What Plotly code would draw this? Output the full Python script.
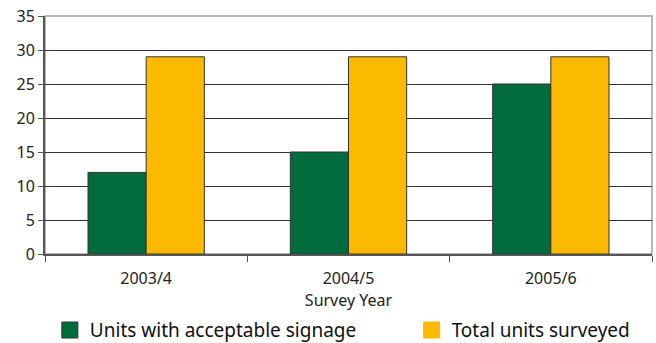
import plotly.graph_objects as go

years = ["2003/4", "2004/5", "2005/6"]
acceptable = [12, 15, 25]
surveyed = [29, 29, 29]
y_ticks = [0, 5, 10, 15, 20, 25, 30, 35]
series_names = ["Units with acceptable signage", "Total units surveyed"]

GREEN = "#006B3C"
YELLOW = "#FBB900"
EDGE = "#333333"
FONT = "Noto Sans, Open Sans, sans-serif"

fig = go.Figure()
for vals, name, col in [(acceptable, series_names[0], GREEN),
                        (surveyed, series_names[1], YELLOW)]:
    fig.add_trace(go.Bar(
        x=years, y=vals, name=name, showlegend=False,
        marker=dict(color=col, line=dict(color=EDGE, width=1)),
    ))

# legend keys drawn as larger square markers, one legend per series
for i, (name, col) in enumerate(zip(series_names, [GREEN, YELLOW])):
    fig.add_trace(go.Scatter(
        x=[None], y=[None], mode="markers", name=name,
        marker=dict(symbol="square", size=16, color=col,
                    line=dict(color=EDGE if i == 0 else col, width=1)),
        legend="legend" if i == 0 else "legend2",
    ))

legend_common = dict(
    orientation="h", yanchor="middle", y=-0.32, xanchor="left",
    font=dict(size=19, color="#111111"), itemwidth=30,
    bgcolor="rgba(0,0,0,0)",
)

fig.update_layout(
    width=656, height=343,
    margin=dict(l=45, r=4, t=16, b=89, autoexpand=False),
    paper_bgcolor="white", plot_bgcolor="white",
    barmode="group", bargap=0.425, bargroupgap=0,
    font=dict(family=FONT, size=16, color="#222222"),
    showlegend=True,
    legend=dict(x=0.008, **legend_common),
    legend2=dict(x=0.604, **legend_common),
    shapes=[dict(
        type="rect", xref="paper", yref="paper", x0=0, x1=1, y0=0, y1=1,
        line=dict(color="#A0A0A0", width=1.5), layer="below",
    )],
)

fig.update_xaxes(
    type="category", tickson="boundaries", ticks="outside", ticklen=6,
    tickcolor="#555555", showline=True, linecolor="#555555", linewidth=2,
    showgrid=False, ticklabelstandoff=9,
    title=dict(text="Survey Year", font=dict(size=16), standoff=0),
    tickfont=dict(size=16),
)
fig.update_yaxes(
    range=[0, 35], tickvals=y_ticks, ticks="outside", ticklen=5,
    tickcolor="#555555", showline=True, linecolor="#555555", linewidth=2,
    showgrid=True, gridcolor="#333333", gridwidth=1, zeroline=False,
    tickfont=dict(size=16),
)

fig.write_html("out.html")
